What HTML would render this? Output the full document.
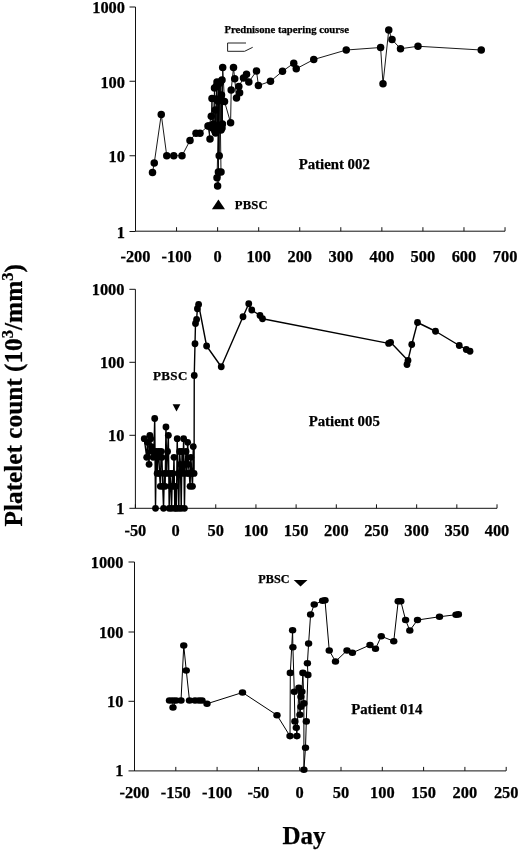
<!DOCTYPE html>
<html><head><meta charset="utf-8"><title>Platelet count</title>
<style>
html,body{margin:0;padding:0;background:#fff;}
body{width:520px;height:851px;overflow:hidden;}
svg{display:block;}
text{font-family:"Liberation Serif","Times New Roman",serif;font-weight:bold;fill:#000;stroke:#000;stroke-width:.25px;}
.ax{stroke:#111;stroke-width:1;fill:none;}
.ln{stroke:#000;fill:none;stroke-linejoin:round;}
.tl{font-size:16.4px;}
.pb{font-size:12.4px;}
.pt{font-size:14.8px;}
</style></head><body>
<svg width="520" height="851" viewBox="0 0 520 851">
<rect width="520" height="851" fill="#fff"/>
<g id="p1">
<path class="ax" d="M135.5 7 V231.2 H505"/>
<path class="ax" d="M129.5 7H135.5M129.5 81.25H135.5M129.5 155.75H135.5M129.5 231.5H135.5M135.5 231.2V227.2M176.56 231.2V227.2M217.62 231.2V227.2M258.68 231.2V227.2M299.74 231.2V227.2M340.8 231.2V227.2M381.86 231.2V227.2M422.92 231.2V227.2M463.98 231.2V227.2M505.04 231.2V227.2"/>
<text class="tl" text-anchor="end" x="125" y="13.4">1000</text>
<text class="tl" text-anchor="end" x="125" y="87.65">100</text>
<text class="tl" text-anchor="end" x="125" y="162.15">10</text>
<text class="tl" text-anchor="end" x="125" y="237.9">1</text>
<text class="tl" text-anchor="middle" x="135.5" y="261.5">-200</text>
<text class="tl" text-anchor="middle" x="176.56" y="261.5">-100</text>
<text class="tl" text-anchor="middle" x="217.62" y="261.5">0</text>
<text class="tl" text-anchor="middle" x="258.68" y="261.5">100</text>
<text class="tl" text-anchor="middle" x="299.74" y="261.5">200</text>
<text class="tl" text-anchor="middle" x="340.8" y="261.5">300</text>
<text class="tl" text-anchor="middle" x="381.86" y="261.5">400</text>
<text class="tl" text-anchor="middle" x="422.92" y="261.5">500</text>
<text class="tl" text-anchor="middle" x="463.98" y="261.5">600</text>
<text class="tl" text-anchor="middle" x="505.04" y="261.5">700</text>
<path class="ln" stroke-width="0.9" d="M152.5 172.5 L154.25 163 L161.25 114.5 L166.75 155.75 L173.75 155.75 L182 155.75 L190 140.5 L196 133.25 L200 133.25 L208 126 L210 139 L209 126 L211.3 116.3 L212 98.5 L212.5 128 L213.3 124 L214.5 88 L214.8 131 L215.3 110 L215.6 133 L216 99 L216.5 86 L216.8 126 L217 82 L217.5 128 L218 101 L218.4 172 L218.5 84 L219.2 155.8 L219.6 82.7 L217 177.8 L217.6 186 L221 172 L220.4 127 L220 100 L220.5 82 L221 130 L221.5 95 L222 128 L222 80 L222.4 124 L222.7 67.6 L224.5 101.5 L230.6 122.7 L231.2 90 L233.5 67.6 L234.7 78.8 L236.5 98 L239.6 92.7 L238.8 86.5 L243.5 78 L246.5 74.2 L248.8 82 L256.5 71 L258.4 85.5 L270.5 81.25 L282.5 71.25 L293.75 63.25 L296.25 68.75 L313.75 59.5 L346.25 50 L380.6 47.5 L383 83.75 L388.75 30 L392 39.5 L400.5 48.75 L418 46.25 L481.25 50"/>
<g fill="#000"><circle cx="152.5" cy="172.5" r="3.75"/><circle cx="154.25" cy="163" r="3.75"/><circle cx="161.25" cy="114.5" r="3.75"/><circle cx="166.75" cy="155.75" r="3.75"/><circle cx="173.75" cy="155.75" r="3.75"/><circle cx="182" cy="155.75" r="3.75"/><circle cx="190" cy="140.5" r="3.75"/><circle cx="196" cy="133.25" r="3.75"/><circle cx="200" cy="133.25" r="3.75"/><circle cx="208" cy="126" r="3.75"/><circle cx="210" cy="139" r="3.75"/><circle cx="209" cy="126" r="3.75"/><circle cx="211.3" cy="116.3" r="3.75"/><circle cx="212" cy="98.5" r="3.75"/><circle cx="212.5" cy="128" r="3.75"/><circle cx="213.3" cy="124" r="3.75"/><circle cx="214.5" cy="88" r="3.75"/><circle cx="214.8" cy="131" r="3.75"/><circle cx="215.3" cy="110" r="3.75"/><circle cx="215.6" cy="133" r="3.75"/><circle cx="216" cy="99" r="3.75"/><circle cx="216.5" cy="86" r="3.75"/><circle cx="216.8" cy="126" r="3.75"/><circle cx="217" cy="82" r="3.75"/><circle cx="217.5" cy="128" r="3.75"/><circle cx="218" cy="101" r="3.75"/><circle cx="218.4" cy="172" r="3.75"/><circle cx="218.5" cy="84" r="3.75"/><circle cx="219.2" cy="155.8" r="3.75"/><circle cx="219.6" cy="82.7" r="3.75"/><circle cx="217" cy="177.8" r="3.75"/><circle cx="217.6" cy="186" r="3.75"/><circle cx="221" cy="172" r="3.75"/><circle cx="220.4" cy="127" r="3.75"/><circle cx="220" cy="100" r="3.75"/><circle cx="220.5" cy="82" r="3.75"/><circle cx="221" cy="130" r="3.75"/><circle cx="221.5" cy="95" r="3.75"/><circle cx="222" cy="128" r="3.75"/><circle cx="222" cy="80" r="3.75"/><circle cx="222.4" cy="124" r="3.75"/><circle cx="222.7" cy="67.6" r="3.75"/><circle cx="224.5" cy="101.5" r="3.75"/><circle cx="230.6" cy="122.7" r="3.75"/><circle cx="231.2" cy="90" r="3.75"/><circle cx="233.5" cy="67.6" r="3.75"/><circle cx="234.7" cy="78.8" r="3.75"/><circle cx="236.5" cy="98" r="3.75"/><circle cx="239.6" cy="92.7" r="3.75"/><circle cx="238.8" cy="86.5" r="3.75"/><circle cx="243.5" cy="78" r="3.75"/><circle cx="246.5" cy="74.2" r="3.75"/><circle cx="248.8" cy="82" r="3.75"/><circle cx="256.5" cy="71" r="3.75"/><circle cx="258.4" cy="85.5" r="3.75"/><circle cx="270.5" cy="81.25" r="3.75"/><circle cx="282.5" cy="71.25" r="3.75"/><circle cx="293.75" cy="63.25" r="3.75"/><circle cx="296.25" cy="68.75" r="3.75"/><circle cx="313.75" cy="59.5" r="3.75"/><circle cx="346.25" cy="50" r="3.75"/><circle cx="380.6" cy="47.5" r="3.75"/><circle cx="383" cy="83.75" r="3.75"/><circle cx="388.75" cy="30" r="3.75"/><circle cx="392" cy="39.5" r="3.75"/><circle cx="400.5" cy="48.75" r="3.75"/><circle cx="418" cy="46.25" r="3.75"/><circle cx="481.25" cy="50" r="3.75"/></g>
<text x="224.4" y="33.3" style="font-size:10.7px">Prednisone tapering course</text>
<path d="M246 43 H227.6 V51.3 H244.6 L252.7 47.3" fill="none" stroke="#222" stroke-width="1"/>
<path d="M211.9 209.2 L225 209.2 L218.4 199.6 Z" fill="#000"/>
<text class="pb" x="234.7" y="209.2" style="font-size:12.6px;letter-spacing:.25px">PBSC</text>
<text class="pt" x="298.7" y="168.7">Patient 002</text>
</g>
<g id="p2">
<path class="ax" d="M135.4 289.3 V508.3 H497"/>
<path class="ax" d="M129.4 289.3H135.4M129.4 362.3H135.4M129.4 435.3H135.4M129.4 508.3H135.4M135.4 508.3V504.3M175.58 508.3V504.3M215.76 508.3V504.3M255.94 508.3V504.3M296.12 508.3V504.3M336.3 508.3V504.3M376.48 508.3V504.3M416.66 508.3V504.3M456.84 508.3V504.3M497.02 508.3V504.3"/>
<text class="tl" text-anchor="end" x="124.5" y="294.8">1000</text>
<text class="tl" text-anchor="end" x="124.5" y="367.8">100</text>
<text class="tl" text-anchor="end" x="124.5" y="440.8">10</text>
<text class="tl" text-anchor="end" x="124.5" y="513.8">1</text>
<text class="tl" text-anchor="middle" x="135.4" y="536">-50</text>
<text class="tl" text-anchor="middle" x="175.58" y="536">0</text>
<text class="tl" text-anchor="middle" x="215.76" y="536">50</text>
<text class="tl" text-anchor="middle" x="255.94" y="536">100</text>
<text class="tl" text-anchor="middle" x="296.12" y="536">150</text>
<text class="tl" text-anchor="middle" x="336.3" y="536">200</text>
<text class="tl" text-anchor="middle" x="376.48" y="536">250</text>
<text class="tl" text-anchor="middle" x="416.66" y="536">300</text>
<text class="tl" text-anchor="middle" x="456.84" y="536">350</text>
<text class="tl" text-anchor="middle" x="497.02" y="536">400</text>
<path class="ln" stroke-width="1.4" d="M144.26 438.64 L146.67 457.28 L147.47 442.37 L149.08 464.35 L149.88 435.3 L150.69 438.64 L151.49 446.61 L152.3 451.49 L153.1 457.28 L153.9 451.49 L154.71 418.48 L155.51 508.3 L156.31 451.49 L157.12 473.47 L157.92 457.28 L158.72 451.49 L159.53 473.47 L160.33 486.32 L161.14 451.49 L161.94 457.28 L162.74 486.32 L163.55 508.3 L164.35 473.47 L165.15 486.32 L165.96 426.98 L166.76 473.47 L167.56 451.49 L168.37 435.3 L169.17 508.3 L169.97 473.47 L170.78 486.32 L171.58 508.3 L172.39 473.47 L173.19 486.32 L173.99 457.28 L174.8 508.3 L175.6 486.32 L176.4 508.3 L177.21 438.64 L178.01 473.47 L178.81 508.3 L179.62 451.49 L180.42 464.35 L181.23 508.3 L182.03 451.49 L182.83 473.47 L183.64 438.64 L184.44 508.3 L185.24 464.35 L186.05 451.49 L186.85 473.47 L187.65 442.37 L188.46 464.35 L189.26 473.47 L190.06 486.32 L190.87 457.28 L191.67 473.47 L192.48 486.32 L193.28 446.61 L194.08 473.47 L194.25 375.5 L195 343.75 L195.5 323.5 L196.6 319.5 L197.4 308.75 L198.6 304.5 L206.6 346 L221.25 366.75 L243 316.75 L248.75 303.75 L251.75 310 L260 315.5 L262.5 318.75 L388.6 343.4 L390.6 342.3 L408 360.5 L407 364.5 L411.75 344.5 L417.5 322.5 L435.5 331.25 L459.25 345.5 L466.25 349.5 L470 351.25"/>
<g fill="#000"><circle cx="144.26" cy="438.64" r="3.4"/><circle cx="146.67" cy="457.28" r="3.4"/><circle cx="147.47" cy="442.37" r="3.4"/><circle cx="149.08" cy="464.35" r="3.4"/><circle cx="149.88" cy="435.3" r="3.4"/><circle cx="150.69" cy="438.64" r="3.4"/><circle cx="151.49" cy="446.61" r="3.4"/><circle cx="152.3" cy="451.49" r="3.4"/><circle cx="153.1" cy="457.28" r="3.4"/><circle cx="153.9" cy="451.49" r="3.4"/><circle cx="154.71" cy="418.48" r="3.4"/><circle cx="155.51" cy="508.3" r="3.4"/><circle cx="156.31" cy="451.49" r="3.4"/><circle cx="157.12" cy="473.47" r="3.4"/><circle cx="157.92" cy="457.28" r="3.4"/><circle cx="158.72" cy="451.49" r="3.4"/><circle cx="159.53" cy="473.47" r="3.4"/><circle cx="160.33" cy="486.32" r="3.4"/><circle cx="161.14" cy="451.49" r="3.4"/><circle cx="161.94" cy="457.28" r="3.4"/><circle cx="162.74" cy="486.32" r="3.4"/><circle cx="163.55" cy="508.3" r="3.4"/><circle cx="164.35" cy="473.47" r="3.4"/><circle cx="165.15" cy="486.32" r="3.4"/><circle cx="165.96" cy="426.98" r="3.4"/><circle cx="166.76" cy="473.47" r="3.4"/><circle cx="167.56" cy="451.49" r="3.4"/><circle cx="168.37" cy="435.3" r="3.4"/><circle cx="169.17" cy="508.3" r="3.4"/><circle cx="169.97" cy="473.47" r="3.4"/><circle cx="170.78" cy="486.32" r="3.4"/><circle cx="171.58" cy="508.3" r="3.4"/><circle cx="172.39" cy="473.47" r="3.4"/><circle cx="173.19" cy="486.32" r="3.4"/><circle cx="173.99" cy="457.28" r="3.4"/><circle cx="174.8" cy="508.3" r="3.4"/><circle cx="175.6" cy="486.32" r="3.4"/><circle cx="176.4" cy="508.3" r="3.4"/><circle cx="177.21" cy="438.64" r="3.4"/><circle cx="178.01" cy="473.47" r="3.4"/><circle cx="178.81" cy="508.3" r="3.4"/><circle cx="179.62" cy="451.49" r="3.4"/><circle cx="180.42" cy="464.35" r="3.4"/><circle cx="181.23" cy="508.3" r="3.4"/><circle cx="182.03" cy="451.49" r="3.4"/><circle cx="182.83" cy="473.47" r="3.4"/><circle cx="183.64" cy="438.64" r="3.4"/><circle cx="184.44" cy="508.3" r="3.4"/><circle cx="185.24" cy="464.35" r="3.4"/><circle cx="186.05" cy="451.49" r="3.4"/><circle cx="186.85" cy="473.47" r="3.4"/><circle cx="187.65" cy="442.37" r="3.4"/><circle cx="188.46" cy="464.35" r="3.4"/><circle cx="189.26" cy="473.47" r="3.4"/><circle cx="190.06" cy="486.32" r="3.4"/><circle cx="190.87" cy="457.28" r="3.4"/><circle cx="191.67" cy="473.47" r="3.4"/><circle cx="192.48" cy="486.32" r="3.4"/><circle cx="193.28" cy="446.61" r="3.4"/><circle cx="194.08" cy="473.47" r="3.4"/><circle cx="194.25" cy="375.5" r="3.4"/><circle cx="195" cy="343.75" r="3.4"/><circle cx="195.5" cy="323.5" r="3.4"/><circle cx="196.6" cy="319.5" r="3.4"/><circle cx="197.4" cy="308.75" r="3.4"/><circle cx="198.6" cy="304.5" r="3.4"/><circle cx="206.6" cy="346" r="3.4"/><circle cx="221.25" cy="366.75" r="3.4"/><circle cx="243" cy="316.75" r="3.4"/><circle cx="248.75" cy="303.75" r="3.4"/><circle cx="251.75" cy="310" r="3.4"/><circle cx="260" cy="315.5" r="3.4"/><circle cx="262.5" cy="318.75" r="3.4"/><circle cx="388.6" cy="343.4" r="3.4"/><circle cx="390.6" cy="342.3" r="3.4"/><circle cx="408" cy="360.5" r="3.4"/><circle cx="407" cy="364.5" r="3.4"/><circle cx="411.75" cy="344.5" r="3.4"/><circle cx="417.5" cy="322.5" r="3.4"/><circle cx="435.5" cy="331.25" r="3.4"/><circle cx="459.25" cy="345.5" r="3.4"/><circle cx="466.25" cy="349.5" r="3.4"/><circle cx="470" cy="351.25" r="3.4"/></g>
<path d="M172.6 404.2 L180.4 404.2 L176.5 411.4 Z" fill="#000"/>
<text class="pb" x="153" y="379.5" style="font-size:13px;letter-spacing:.35px">PBSC</text>
<text class="pt" x="308.7" y="425.5">Patient 005</text>
</g>
<g id="p3">
<path class="ax" d="M134.5 562 V770.9 H506"/>
<path class="ax" d="M128.5 562H134.5M128.5 632H134.5M128.5 701.3H134.5M128.5 770.9H134.5M134.5 770.9V766.9M175.8 770.9V766.9M217.1 770.9V766.9M258.4 770.9V766.9M299.7 770.9V766.9M341 770.9V766.9M382.3 770.9V766.9M423.6 770.9V766.9M464.9 770.9V766.9M506.2 770.9V766.9"/>
<text class="tl" text-anchor="end" x="123.5" y="567.5">1000</text>
<text class="tl" text-anchor="end" x="123.5" y="637.5">100</text>
<text class="tl" text-anchor="end" x="123.5" y="706.8">10</text>
<text class="tl" text-anchor="end" x="123.5" y="776.4">1</text>
<text class="tl" text-anchor="middle" x="134.5" y="797.6">-200</text>
<text class="tl" text-anchor="middle" x="175.8" y="797.6">-150</text>
<text class="tl" text-anchor="middle" x="217.1" y="797.6">-100</text>
<text class="tl" text-anchor="middle" x="258.4" y="797.6">-50</text>
<text class="tl" text-anchor="middle" x="299.7" y="797.6">0</text>
<text class="tl" text-anchor="middle" x="341" y="797.6">50</text>
<text class="tl" text-anchor="middle" x="382.3" y="797.6">100</text>
<text class="tl" text-anchor="middle" x="423.6" y="797.6">150</text>
<text class="tl" text-anchor="middle" x="464.9" y="797.6">200</text>
<text class="tl" text-anchor="middle" x="506.2" y="797.6">250</text>
<path class="ln" stroke-width="1.0" d="M169.5 700.5 L172.8 700.5 L173 707.5 L176 700.5 L181 700.5 L183.75 645.5 L186.25 670.5 L189.5 700.5 L195 700.5 L199 700.5 L202 700.5 L207 703.75 L242.5 692.5 L277 715.2 L290 736.1 L290.3 672.9 L292.6 630.3 L292.9 647.3 L294.3 691.8 L294.9 721.4 L296.3 727.8 L296.9 736.1 L298.9 687.8 L299.9 714.8 L300.9 706.8 L300.9 696.8 L301.9 691.8 L302.9 672.9 L303.9 703.4 L303.9 769.7 L305.5 747.7 L306.3 721.4 L307.9 674.9 L307.4 663.3 L308.6 643.6 L310.6 614.5 L314.25 604.5 L322.6 600.8 L325 600.3 L329.25 650.5 L335.5 661.5 L347 650.5 L352.4 652.8 L370 645 L375.5 648.75 L381.25 636.25 L393.75 641.25 L398.2 601.3 L400.8 601.2 L405.6 620 L409.8 630.5 L417.5 620 L439.5 616.75 L456 614.7 L458.4 614.4"/>
<g fill="#000"><ellipse cx="169.5" cy="700.5" rx="3.7" ry="3.3"/><ellipse cx="172.8" cy="700.5" rx="3.7" ry="3.3"/><ellipse cx="173" cy="707.5" rx="3.7" ry="3.3"/><ellipse cx="176" cy="700.5" rx="3.7" ry="3.3"/><ellipse cx="181" cy="700.5" rx="3.7" ry="3.3"/><ellipse cx="183.75" cy="645.5" rx="3.7" ry="3.3"/><ellipse cx="186.25" cy="670.5" rx="3.7" ry="3.3"/><ellipse cx="189.5" cy="700.5" rx="3.7" ry="3.3"/><ellipse cx="195" cy="700.5" rx="3.7" ry="3.3"/><ellipse cx="199" cy="700.5" rx="3.7" ry="3.3"/><ellipse cx="202" cy="700.5" rx="3.7" ry="3.3"/><ellipse cx="207" cy="703.75" rx="3.7" ry="3.3"/><ellipse cx="242.5" cy="692.5" rx="3.7" ry="3.3"/><ellipse cx="277" cy="715.2" rx="3.7" ry="3.3"/><ellipse cx="290" cy="736.1" rx="3.7" ry="3.3"/><ellipse cx="290.3" cy="672.9" rx="3.7" ry="3.3"/><ellipse cx="292.6" cy="630.3" rx="3.7" ry="3.3"/><ellipse cx="292.9" cy="647.3" rx="3.7" ry="3.3"/><ellipse cx="294.3" cy="691.8" rx="3.7" ry="3.3"/><ellipse cx="294.9" cy="721.4" rx="3.7" ry="3.3"/><ellipse cx="296.3" cy="727.8" rx="3.7" ry="3.3"/><ellipse cx="296.9" cy="736.1" rx="3.7" ry="3.3"/><ellipse cx="298.9" cy="687.8" rx="3.7" ry="3.3"/><ellipse cx="299.9" cy="714.8" rx="3.7" ry="3.3"/><ellipse cx="300.9" cy="706.8" rx="3.7" ry="3.3"/><ellipse cx="300.9" cy="696.8" rx="3.7" ry="3.3"/><ellipse cx="301.9" cy="691.8" rx="3.7" ry="3.3"/><ellipse cx="302.9" cy="672.9" rx="3.7" ry="3.3"/><ellipse cx="303.9" cy="703.4" rx="3.7" ry="3.3"/><ellipse cx="303.9" cy="769.7" rx="3.7" ry="3.3"/><ellipse cx="305.5" cy="747.7" rx="3.7" ry="3.3"/><ellipse cx="306.3" cy="721.4" rx="3.7" ry="3.3"/><ellipse cx="307.9" cy="674.9" rx="3.7" ry="3.3"/><ellipse cx="307.4" cy="663.3" rx="3.7" ry="3.3"/><ellipse cx="308.6" cy="643.6" rx="3.7" ry="3.3"/><ellipse cx="310.6" cy="614.5" rx="3.7" ry="3.3"/><ellipse cx="314.25" cy="604.5" rx="3.7" ry="3.3"/><ellipse cx="322.6" cy="600.8" rx="3.7" ry="3.3"/><ellipse cx="325" cy="600.3" rx="3.7" ry="3.3"/><ellipse cx="329.25" cy="650.5" rx="3.7" ry="3.3"/><ellipse cx="335.5" cy="661.5" rx="3.7" ry="3.3"/><ellipse cx="347" cy="650.5" rx="3.7" ry="3.3"/><ellipse cx="352.4" cy="652.8" rx="3.7" ry="3.3"/><ellipse cx="370" cy="645" rx="3.7" ry="3.3"/><ellipse cx="375.5" cy="648.75" rx="3.7" ry="3.3"/><ellipse cx="381.25" cy="636.25" rx="3.7" ry="3.3"/><ellipse cx="393.75" cy="641.25" rx="3.7" ry="3.3"/><ellipse cx="398.2" cy="601.3" rx="3.7" ry="3.3"/><ellipse cx="400.8" cy="601.2" rx="3.7" ry="3.3"/><ellipse cx="405.6" cy="620" rx="3.7" ry="3.3"/><ellipse cx="409.8" cy="630.5" rx="3.7" ry="3.3"/><ellipse cx="417.5" cy="620" rx="3.7" ry="3.3"/><ellipse cx="439.5" cy="616.75" rx="3.7" ry="3.3"/><ellipse cx="456" cy="614.7" rx="3.7" ry="3.3"/><ellipse cx="458.4" cy="614.4" rx="3.7" ry="3.3"/></g>
<path d="M293.7 580 L307.5 580 L300.5 586.4 Z" fill="#000"/>
<text class="pb" x="258.2" y="583.3" style="font-size:12.2px;letter-spacing:.1px">PBSC</text>
<text class="pt" x="351.2" y="714.3">Patient 014</text>
</g>
<text transform="translate(21.5 526.5) rotate(-90)" style="font-size:25.3px">Platelet count (10<tspan dy="-8.5" style="font-size:16.5px">3</tspan><tspan dy="8.5">/mm</tspan><tspan dy="-8.5" style="font-size:16.5px">3</tspan><tspan dy="8.5">)</tspan></text>
<text x="282.5" y="843.7" style="font-size:25px">Day</text>
</svg>
</body></html>
